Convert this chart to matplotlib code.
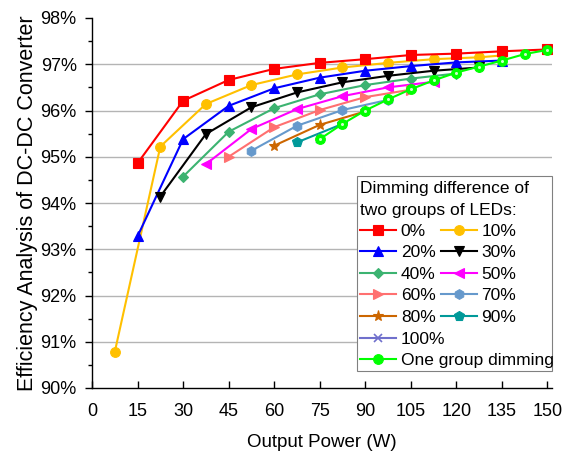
import matplotlib
matplotlib.use("Agg")
import matplotlib.pyplot as plt
from matplotlib.ticker import MultipleLocator, FuncFormatter
from matplotlib.patches import Rectangle

plt.rcParams['font.family'] = ['Liberation Sans', 'DejaVu Sans']

# Output power (W) and efficiency (%) for each dimming difference
p_0 = [15, 30, 45, 60, 75, 90, 105, 120, 135, 150]
e_0 = [94.86, 96.21, 96.66, 96.90, 97.03, 97.11, 97.20, 97.23, 97.28, 97.32]
p_10 = [7.5, 22.5, 37.5, 52.5, 67.5, 82.5, 97.5, 112.5, 127.5, 135]
e_10 = [90.78, 95.22, 96.14, 96.55, 96.78, 96.93, 97.03, 97.11, 97.15, 97.19]
p_20 = [15, 30, 45, 60, 75, 90, 105, 120, 135]
e_20 = [93.28, 95.38, 96.10, 96.48, 96.71, 96.86, 96.96, 97.04, 97.08]
p_30 = [22.5, 37.5, 52.5, 67.5, 82.5, 97.5, 112.5, 127.5]
e_30 = [94.14, 95.49, 96.07, 96.39, 96.61, 96.75, 96.86, 96.93]
p_40 = [30, 45, 60, 75, 90, 105, 120]
e_40 = [94.57, 95.54, 96.05, 96.35, 96.55, 96.69, 96.80]
p_50 = [37.5, 52.5, 67.5, 82.5, 97.5, 112.5]
e_50 = [94.84, 95.60, 96.03, 96.31, 96.50, 96.62]
p_60 = [45, 60, 75, 90, 105]
e_60 = [95.00, 95.64, 96.01, 96.29, 96.45]
p_70 = [52.5, 67.5, 82.5, 97.5]
e_70 = [95.13, 95.67, 96.01, 96.23]
p_80 = [60, 75, 90]
e_80 = [95.24, 95.69, 95.98]
p_90 = [67.5, 82.5]
e_90 = [95.31, 95.71]
p_100 = [75]
e_100 = [95.38]
p_one = [75, 82.5, 90, 97.5, 105, 112.5, 120, 127.5, 135, 142.5, 150]
e_one = [95.38, 95.71, 96.00, 96.24, 96.46, 96.65, 96.82, 96.95, 97.08, 97.22, 97.31]

labels = ["0%", "10%", "20%", "30%", "40%", "50%", "60%", "70%", "80%",
          "90%", "100%", "One group dimming"]
x_ticks = [0, 15, 30, 45, 60, 75, 90, 105, 120, 135, 150]

series = [
    (p_0, e_0, "#FF0000", "s", 6.5),
    (p_10, e_10, "#FFC000", "o", 7),
    (p_20, e_20, "#0000FF", "^", 7),
    (p_30, e_30, "#000000", "v", 7),
    (p_40, e_40, "#3CB371", "D", 5.5),
    (p_50, e_50, "#FF00FF", "<", 7),
    (p_60, e_60, "#FF7070", ">", 7),
    (p_70, e_70, "#6699CC", "h", 7),
    (p_80, e_80, "#CC6600", "*", 8),
    (p_90, e_90, "#009999", "p", 7),
    (p_100, e_100, "#7070CC", "x", 6),
    (p_one, e_one, "#00FF00", "o", 7),
]

W, H = 579, 454
fig = plt.figure(figsize=(W / 100, H / 100), dpi=100)
ax = fig.add_axes([92 / W, 1 - 388 / H, 460 / W, 370 / H])

handles = []
for i, (x, y, c, m, ms) in enumerate(series):
    z = 3 + i * 0.1
    if i == 0:
        z = 4.5
    if i == len(series) - 1:
        z = 5
    (h,) = ax.plot(x, y, color=c, marker=m, markersize=ms, linewidth=1.5,
                   markeredgewidth=1.2 if m == "x" else 0.8,
                   markeredgecolor=c, label=labels[i], zorder=z)
    handles.append(h)

# light centre on the "one group" circles
ax.plot(p_one, e_one, linestyle="none", marker="o", markersize=2.2,
        color="#CCFFCC", markeredgewidth=0, zorder=5.1)

ax.set_xlim(0, 151.5)
ax.set_ylim(90, 98)
ax.set_xticks(x_ticks)
ax.yaxis.set_major_locator(MultipleLocator(1))
ax.yaxis.set_minor_locator(MultipleLocator(0.5))
ax.yaxis.set_major_formatter(FuncFormatter(lambda v, _: f"{v:.0f}%"))

for y in range(91, 98):
    ax.axhline(y, color="#B4B4B4", linewidth=1.0, zorder=1)

ax.spines["top"].set_visible(False)
ax.spines["right"].set_visible(False)
ax.spines["left"].set_linewidth(1.0)
ax.spines["bottom"].set_linewidth(1.0)

ax.tick_params(axis="x", direction="in", length=5, width=1, labelsize=13, pad=11)
ax.tick_params(axis="y", which="major", direction="out", length=5, width=1,
               labelsize=13, pad=6)
ax.tick_params(axis="y", which="minor", direction="out", length=3, width=1)

ax.set_xlabel("Output Power (W)", fontsize=13.5, labelpad=10)
ax.set_ylabel("Efficiency Analysis of DC-DC Converter", fontsize=15.5, labelpad=2)

# legend: two-column block with the title, then two single-column rows
common = dict(fontsize=12.5, title_fontsize=12.5, frameon=False,
              handlelength=2.1, handletextpad=0.25, columnspacing=0.3,
              labelspacing=0.36, borderpad=0.0, borderaxespad=0.0)
col_major = [0, 2, 4, 6, 8, 1, 3, 5, 7, 9]
leg1 = fig.legend([handles[k] for k in col_major], [labels[k] for k in col_major],
                  ncol=2, loc="upper left",
                  bbox_to_anchor=(360 / W, 1 - 181 / H),
                  title="Dimming difference of\ntwo groups of LEDs:", **common)
leg1._legend_box.align = "left"
leg1.get_title().set_linespacing(1.55)
leg2 = fig.legend([handles[10], handles[11]], [labels[10], labels[11]],
                  ncol=1, loc="upper left",
                  bbox_to_anchor=(360 / W, 1 - 331.5 / H), **common)
fig.add_artist(Rectangle((357 / W, 1 - 371 / H), 195 / W, 195 / H,
                         transform=fig.transFigure, facecolor="white",
                         edgecolor="#808080", linewidth=0.8, zorder=9))
leg1.set_zorder(10)
leg2.set_zorder(10)

fig.savefig("out.png", dpi=100)
